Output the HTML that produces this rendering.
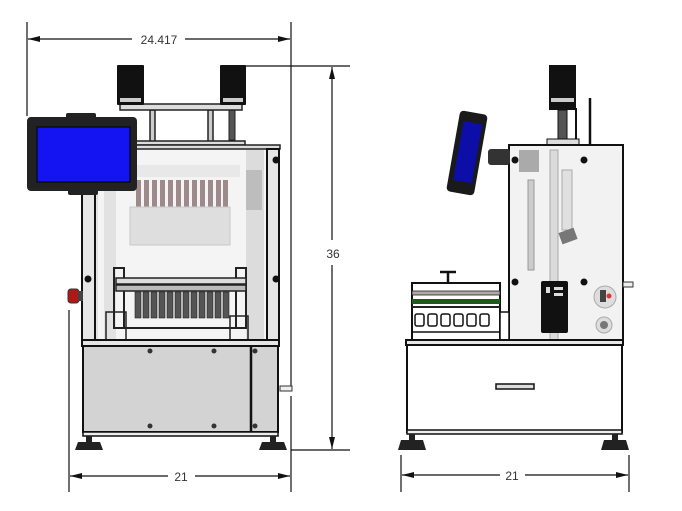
<!DOCTYPE html>
<html><head><meta charset="utf-8"><style>
html,body{margin:0;padding:0;background:#fff;}
svg{display:block;}
text{font-family:"Liberation Sans",sans-serif;font-size:12px;fill:#333;}
</style></head><body>
<svg width="682" height="511" viewBox="0 0 682 511" xmlns="http://www.w3.org/2000/svg">
<defs>
<marker id="a" markerWidth="12" markerHeight="6" refX="12" refY="3" orient="auto-start-reverse" markerUnits="userSpaceOnUse"><path d="M0,0 L12,3 L0,6 Z" fill="#111"/></marker>
</defs>
<!-- ===== LEFT VIEW ===== -->
<!-- dimension 24.417 -->
<line x1="27" y1="22" x2="27" y2="116" stroke="#111" stroke-width="1.2"/>
<line x1="291" y1="22" x2="291" y2="386" stroke="#111" stroke-width="1.2"/>
<line x1="291" y1="396" x2="291" y2="492" stroke="#111" stroke-width="1.2"/>
<line x1="28" y1="39" x2="132" y2="39" stroke="#111" stroke-width="1.2" marker-start="url(#a)"/>
<line x1="185" y1="39" x2="290" y2="39" stroke="#111" stroke-width="1.2" marker-end="url(#a)"/>
<text x="159" y="44" text-anchor="middle">24.417</text>
<!-- dimension 36 -->
<line x1="245" y1="66" x2="350" y2="66" stroke="#111" stroke-width="1.2"/>
<line x1="291" y1="450" x2="350" y2="450" stroke="#111" stroke-width="1.2"/>
<line x1="332" y1="67" x2="332" y2="240" stroke="#111" stroke-width="1.2" marker-start="url(#a)"/>
<line x1="332" y1="265" x2="332" y2="449" stroke="#111" stroke-width="1.2" marker-end="url(#a)"/>
<text x="333" y="258" text-anchor="middle">36</text>
<!-- dimension 21 left -->
<line x1="69" y1="310" x2="69" y2="492" stroke="#111" stroke-width="1.2"/>
<line x1="70" y1="476" x2="168" y2="476" stroke="#111" stroke-width="1.2" marker-start="url(#a)"/>
<line x1="195" y1="476" x2="290" y2="476" stroke="#111" stroke-width="1.2" marker-end="url(#a)"/>
<text x="181" y="481" text-anchor="middle">21</text>

<!-- interior -->
<rect x="97" y="148" width="172" height="193" fill="#f4f4f4" stroke="#bbb" stroke-width="0.8"/>
<rect x="104" y="150" width="12" height="190" fill="#e2e2e2"/>
<rect x="246" y="150" width="18" height="190" fill="#dcdcdc"/>
<rect x="246" y="170" width="16" height="40" fill="#bdbdbd"/>
<g fill="#9e8a8a">
<rect x="136" y="180" width="5" height="27"/><rect x="144" y="180" width="5" height="27"/><rect x="152" y="180" width="5" height="27"/><rect x="160" y="180" width="5" height="27"/><rect x="168" y="180" width="5" height="27"/><rect x="176" y="180" width="5" height="27"/><rect x="184" y="180" width="5" height="27"/><rect x="192" y="180" width="5" height="27"/><rect x="200" y="180" width="5" height="27"/><rect x="208" y="180" width="5" height="27"/><rect x="216" y="180" width="5" height="27"/><rect x="223" y="180" width="5" height="27"/>
</g>
<rect x="130" y="207" width="100" height="38" fill="#dedede" stroke="#c8c8c8"/>
<rect x="130" y="165" width="110" height="12" fill="#e8e8e8"/>
<!-- gantry -->
<rect x="114" y="268" width="10" height="60" fill="none" stroke="#222" stroke-width="2"/>
<rect x="236" y="268" width="10" height="60" fill="none" stroke="#222" stroke-width="2"/>
<rect x="116" y="278" width="130" height="6" fill="#ddd" stroke="#222" stroke-width="1.5"/>
<rect x="116" y="285" width="130" height="6" fill="#bbb" stroke="#222" stroke-width="1.5"/>
<g fill="#555" stroke="#222" stroke-width="0.6">
<rect x="135" y="292" width="6" height="26"/><rect x="143" y="292" width="6" height="26"/><rect x="151" y="292" width="6" height="26"/><rect x="159" y="292" width="6" height="26"/><rect x="167" y="292" width="6" height="26"/><rect x="175" y="292" width="6" height="26"/><rect x="183" y="292" width="6" height="26"/><rect x="191" y="292" width="6" height="26"/><rect x="199" y="292" width="6" height="26"/><rect x="207" y="292" width="6" height="26"/><rect x="215" y="292" width="6" height="26"/><rect x="223" y="292" width="6" height="26"/>
</g>
<rect x="106" y="312" width="20" height="28" fill="none" stroke="#222" stroke-width="1.5"/>
<rect x="230" y="316" width="18" height="24" fill="none" stroke="#222" stroke-width="1.5"/>
<line x1="120" y1="328" x2="245" y2="328" stroke="#222" stroke-width="2"/>
<!-- top assembly -->
<rect x="150" y="110" width="5" height="36" fill="#ccc" stroke="#222" stroke-width="1.5"/>
<rect x="208" y="110" width="5" height="36" fill="#ccc" stroke="#222" stroke-width="1.5"/>
<rect x="229" y="110" width="6" height="30" fill="#555" stroke="#222"/>
<rect x="120" y="104" width="122" height="6" fill="#ddd" stroke="#222" stroke-width="1.5"/>
<rect x="117" y="65" width="27" height="40" fill="#111" rx="1"/>
<rect x="120" y="98" width="21" height="4" fill="#ccc"/>
<rect x="220" y="65" width="26" height="40" fill="#111" rx="1"/>
<rect x="223" y="98" width="20" height="4" fill="#ccc"/>
<rect x="135" y="141" width="110" height="4" fill="#ddd" stroke="#222" stroke-width="1.5"/>
<rect x="135" y="145" width="145" height="4" fill="#ddd" stroke="#222" stroke-width="1.5"/>
<!-- frame posts -->
<rect x="267" y="149" width="12" height="193" fill="#e6e6e6" stroke="#111" stroke-width="2"/>
<rect x="82" y="190" width="13" height="152" fill="#e6e6e6" stroke="#111" stroke-width="2"/>
<circle cx="276" cy="160" r="3.5" fill="#111"/><circle cx="276" cy="279" r="3.5" fill="#111"/><circle cx="88" cy="279" r="3.5" fill="#111"/>
<!-- e-stop -->
<rect x="68" y="289" width="11" height="14" rx="3" fill="#b01818" stroke="#333"/>
<rect x="78" y="291" width="5" height="10" fill="#444"/>
<!-- monitor -->
<rect x="66" y="113" width="30" height="6" rx="2" fill="#222"/>
<rect x="68" y="189" width="30" height="6" rx="2" fill="#222"/>
<rect x="27" y="117" width="110" height="74" rx="4" fill="#222"/>
<rect x="37" y="127" width="93" height="55" fill="#1414f2" stroke="#000"/>
<!-- lower cabinet -->
<rect x="82" y="340" width="197" height="6" fill="#e6e6e6" stroke="#111" stroke-width="2"/>
<rect x="83" y="346" width="195" height="86" fill="#d3d3d3" stroke="#111" stroke-width="2"/>
<line x1="251" y1="346" x2="251" y2="432" stroke="#111" stroke-width="2.5"/>
<g fill="#333"><circle cx="150" cy="351" r="2.5"/><circle cx="214" cy="351" r="2.5"/><circle cx="150" cy="426" r="2.5"/><circle cx="214" cy="426" r="2.5"/><circle cx="255" cy="351" r="2.5"/><circle cx="255" cy="426" r="2.5"/></g>
<rect x="83" y="432" width="195" height="4" fill="#eee" stroke="#111" stroke-width="1.5"/>
<rect x="280" y="386" width="12" height="5" fill="#eee" stroke="#333"/>
<path d="M86,436 h6 v6 h8 l3,8 h-28 l3,-8 h8z" fill="#222"/>
<path d="M270,436 h6 v6 h8 l3,8 h-28 l3,-8 h8z" fill="#222"/>

<!-- ===== RIGHT VIEW ===== -->
<line x1="401" y1="455" x2="401" y2="492" stroke="#111" stroke-width="1.2"/>
<line x1="629" y1="455" x2="629" y2="492" stroke="#111" stroke-width="1.2"/>
<line x1="402" y1="475" x2="500" y2="475" stroke="#111" stroke-width="1.2" marker-start="url(#a)"/>
<line x1="525" y1="475" x2="628" y2="475" stroke="#111" stroke-width="1.2" marker-end="url(#a)"/>
<text x="512" y="480" text-anchor="middle">21</text>
<!-- top motor -->
<rect x="558" y="110" width="9" height="34" fill="#555" stroke="#111"/>
<line x1="576" y1="108" x2="576" y2="145" stroke="#111" stroke-width="2"/>
<line x1="590" y1="98" x2="590" y2="145" stroke="#111" stroke-width="2.5"/>
<rect x="549" y="65" width="27" height="45" fill="#111"/>
<rect x="551" y="98" width="23" height="4" fill="#ccc"/>
<rect x="547" y="139" width="32" height="6" fill="#ddd" stroke="#111"/>
<!-- enclosure -->
<rect x="509" y="145" width="114" height="196" fill="#f2f2f2" stroke="#111" stroke-width="2"/>
<rect x="519" y="150" width="20" height="22" fill="#aaa"/>
<rect x="528" y="180" width="6" height="90" fill="#ccc" stroke="#999"/>
<rect x="550" y="150" width="8" height="190" fill="#dadada" stroke="#aaa"/>
<rect x="562" y="170" width="10" height="60" fill="#e0e0e0" stroke="#aaa"/>
<rect x="560" y="230" width="16" height="12" fill="#777" transform="rotate(-20 568 236)"/>
<rect x="541" y="281" width="27" height="52" rx="2" fill="#111"/>
<rect x="546" y="287" width="4" height="6" fill="#ddd"/><rect x="554" y="287" width="9" height="3" fill="#ddd"/><rect x="554" y="293" width="9" height="3" fill="#ddd"/>
<circle cx="605" cy="297" r="11" fill="#ddd" stroke="#aaa"/><rect x="600" y="290" width="6" height="12" fill="#444"/><circle cx="609" cy="296" r="2.5" fill="#d33"/>
<circle cx="604" cy="325" r="8" fill="#ddd" stroke="#aaa"/><circle cx="604" cy="325" r="4" fill="#777"/>
<g fill="#111"><circle cx="515" cy="160" r="3.5"/><circle cx="584" cy="160" r="3.5"/><circle cx="515" cy="282" r="3.5"/><circle cx="584" cy="282" r="3.5"/></g>
<rect x="623" y="282" width="10" height="5" fill="#eee" stroke="#333"/>
<!-- tablet -->
<rect x="488" y="149" width="22" height="16" rx="3" fill="#333"/>
<g transform="rotate(10 467 153)">
<rect x="453" y="112" width="28" height="82" rx="4" fill="#1a1a1a"/>
<rect x="458" y="122" width="19" height="60" fill="#0d0da8"/>
</g>
<!-- left fixture -->
<rect x="412" y="283" width="88" height="58" fill="#fff" stroke="#111" stroke-width="2"/>
<line x1="440" y1="272" x2="456" y2="272" stroke="#111" stroke-width="2.5"/>
<line x1="448" y1="272" x2="448" y2="284" stroke="#111" stroke-width="2.5"/>
<rect x="412" y="291" width="88" height="4" fill="#b0a8a8" stroke="#222" stroke-width="0.8"/>
<rect x="412" y="299" width="88" height="5" fill="#1a5c1a"/>
<rect x="412" y="306" width="88" height="2" fill="#222"/>
<g fill="#fff" stroke="#111" stroke-width="1.5"><rect x="415" y="314" width="9" height="12" rx="2"/><rect x="428" y="314" width="9" height="12" rx="2"/><rect x="441" y="314" width="9" height="12" rx="2"/><rect x="454" y="314" width="9" height="12" rx="2"/><rect x="467" y="314" width="9" height="12" rx="2"/><rect x="480" y="314" width="9" height="12" rx="2"/></g>
<line x1="412" y1="332" x2="500" y2="332" stroke="#111" stroke-width="1.5"/>
<rect x="500" y="312" width="9" height="28" fill="#fff" stroke="#111" stroke-width="1.5"/>
<!-- right cabinet -->
<rect x="406" y="340" width="217" height="5" fill="#e6e6e6" stroke="#111" stroke-width="2"/>
<rect x="407" y="345" width="215" height="87" fill="#fff" stroke="#111" stroke-width="2"/>
<rect x="496" y="384" width="38" height="5" fill="#ddd" stroke="#111" stroke-width="1.5"/>
<rect x="407" y="430" width="215" height="4" fill="#eee" stroke="#111" stroke-width="1.5"/>
<path d="M409,434 h6 v6 h8 l3,10 h-28 l3,-10 h8z" fill="#222"/>
<path d="M612,434 h6 v6 h8 l3,10 h-28 l3,-10 h8z" fill="#222"/>
</svg>
</body></html>
